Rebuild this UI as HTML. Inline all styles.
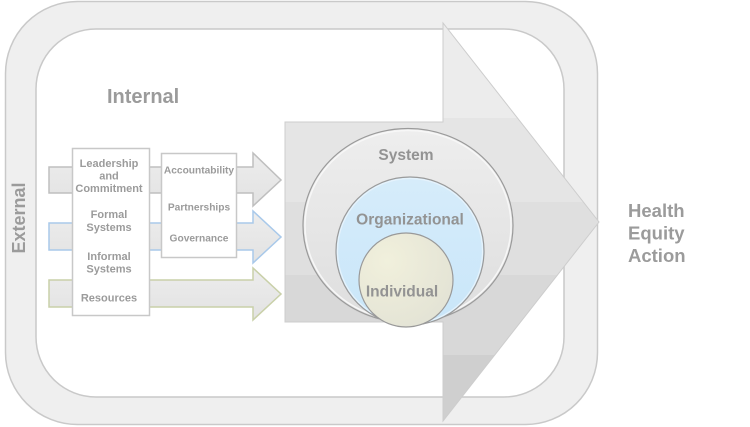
<!DOCTYPE html>
<html>
<head>
<meta charset="utf-8">
<style>
  html, body { margin: 0; padding: 0; background: #ffffff; }
  body { width: 750px; height: 427px; overflow: hidden; }
  svg { display: block; }
  text { font-family: "Liberation Sans", Arial, sans-serif; font-weight: bold; }
</style>
</head>
<body>
<svg width="750" height="427" viewBox="0 0 750 427" xmlns="http://www.w3.org/2000/svg">
  <defs>
    <linearGradient id="bands" gradientUnits="userSpaceOnUse" x1="0" y1="23" x2="0" y2="421">
      <stop offset="0" stop-color="#ececec"/>
      <stop offset="0.2387" stop-color="#ececec"/>
      <stop offset="0.2387" stop-color="#e5e5e5"/>
      <stop offset="0.4497" stop-color="#e5e5e5"/>
      <stop offset="0.4497" stop-color="#dfdfdf"/>
      <stop offset="0.6332" stop-color="#dfdfdf"/>
      <stop offset="0.6332" stop-color="#d8d8d8"/>
      <stop offset="0.8342" stop-color="#d8d8d8"/>
      <stop offset="0.8342" stop-color="#cfcfcf"/>
      <stop offset="1" stop-color="#cfcfcf"/>
    </linearGradient>
    <linearGradient id="sysg" x1="0" y1="0" x2="0" y2="1">
      <stop offset="0" stop-color="#eeeeee"/>
      <stop offset="1" stop-color="#dedede"/>
    </linearGradient>
    <linearGradient id="orgg" x1="0" y1="0" x2="0" y2="1">
      <stop offset="0" stop-color="#d6ecfa"/>
      <stop offset="1" stop-color="#c9e6f9"/>
    </linearGradient>
    <radialGradient id="indg" cx="0.3" cy="0.3" r="0.8">
      <stop offset="0" stop-color="#f1f0dc"/>
      <stop offset="1" stop-color="#e3e3d5"/>
    </radialGradient>
    <linearGradient id="sag" x1="0" y1="0" x2="0" y2="1">
      <stop offset="0" stop-color="#ededed"/>
      <stop offset="1" stop-color="#e2e2e2"/>
    </linearGradient>
  </defs>

  <!-- outer rounded frame -->
  <rect x="5.5" y="1.5" width="592" height="423" rx="72" ry="72" fill="#efefef" stroke="#c9c9c9" stroke-width="1.5"/>
  <!-- inner rounded area -->
  <rect x="36" y="29" width="528" height="368" rx="60" ry="60" fill="#ffffff" stroke="#c9c9c9" stroke-width="1.5"/>

  <!-- small arrows -->
  <polygon points="49,167 253,167 253,153 281,180 253,206 253,193 49,193" fill="url(#sag)" stroke="#bfbfbf" stroke-width="1.5"/>
  <polygon points="49,223 253,223 253,211 281,237 253,263 253,250 49,250" fill="url(#sag)" stroke="#a9c9ea" stroke-width="1.5"/>
  <polygon points="49,280 253,280 253,268 281,294 253,320 253,307 49,307" fill="url(#sag)" stroke="#c9d0a9" stroke-width="1.5"/>

  <!-- boxes -->
  <rect x="72.5" y="148.5" width="77" height="167" fill="#ffffff" stroke="#c8c8c8" stroke-width="1.5"/>
  <rect x="161.5" y="153.5" width="75" height="104" fill="#ffffff" stroke="#c8c8c8" stroke-width="1.5"/>

  <!-- big arrow -->
  <polygon points="285,122 443,122 443,23 599,222 443,421 443,322 285,322" fill="url(#bands)" stroke="#cdcdcd" stroke-width="1"/>

  <!-- circles -->
  <ellipse cx="408" cy="227" rx="105" ry="97" fill="#cfcfcf" opacity="0.5"/>
  <ellipse cx="408" cy="225.5" rx="105" ry="97" fill="url(#sysg)" stroke="#9a9a9a" stroke-width="1.2"/>
  <ellipse cx="408" cy="225.5" rx="103" ry="95" fill="none" stroke="#f7f7f7" stroke-width="1.5"/>
  <circle cx="410" cy="251" r="74" fill="url(#orgg)" stroke="#9a9a9a" stroke-width="1.2"/>
  <circle cx="410" cy="251" r="72.5" fill="none" stroke="#e6f3fc" stroke-width="1.2"/>
  <circle cx="406" cy="280" r="47" fill="url(#indg)" stroke="#999999" stroke-width="1.2"/>

  <!-- box 1 text -->
  <g fill="#9b9b9b" font-size="11" text-anchor="middle">
    <text x="109" y="167">Leadership</text>
    <text x="109" y="179.5">and</text>
    <text x="109" y="192">Commitment</text>
    <text x="109" y="218">Formal</text>
    <text x="109" y="231">Systems</text>
    <text x="109" y="260">Informal</text>
    <text x="109" y="272.5">Systems</text>
    <text x="109" y="301.5">Resources</text>
  </g>
  <!-- box 2 text -->
  <g fill="#9b9b9b" font-size="10.2" text-anchor="middle">
    <text x="199" y="173.3">Accountability</text>
    <text x="199" y="210.7">Partnerships</text>
    <text x="199" y="241.7">Governance</text>
  </g>

  <!-- circle labels -->
  <g fill="#939393" font-size="15.5" text-anchor="middle">
    <text x="406" y="160">System</text>
    <text x="410" y="224.3">Organizational</text>
    <text x="402" y="296.7">Individual</text>
  </g>

  <!-- main labels -->
  <text x="107" y="103" font-size="20" fill="#9b9b9b">Internal</text>
  <text transform="translate(25,218) rotate(-90)" font-size="18" fill="#9b9b9b" text-anchor="middle">External</text>
  <g fill="#9b9b9b" font-size="18.5">
    <text x="628" y="217">Health</text>
    <text x="628" y="239.5">Equity</text>
    <text x="628" y="262">Action</text>
  </g>
</svg>
</body>
</html>
